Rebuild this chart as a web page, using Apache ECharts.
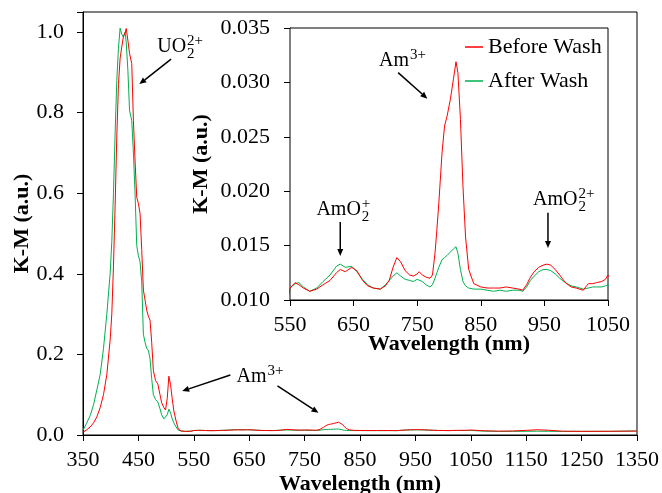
<!DOCTYPE html>
<html><head><meta charset="utf-8">
<script src="https://cdn.jsdelivr.net/npm/echarts@6/dist/echarts.min.js"></script>
<style>html,body{margin:0;padding:0;background:#fff}#c{width:662px;height:493px}</style>
</head><body><div id="c"></div>
<script>
const wavelength = [350,356,363,369,375,381,387,393,399,402,405,408,411,414,417,420,423,426,428,431,434,438,441,444,447,450,453,456,459,462,465,468,471,474,477,481,485,489,492,496,499,502,505,508,511,514,518,522,527,535,545,550,558,564,571,581,592,602,613,623,629,637,647,655,664,672,681,692,700,706,712,718,724,731,738,744,750,753,758,764,770,774,778,781,784,789,793,797,802,807,811,814,818,822,826,831,839,850,860,870,880,890,900,910,916,922,928,934,941,948,954,960,967,974,983,992,1000,1011,1019,1026,1032,1040,1046,1050,1075,1100,1125,1150,1170,1190,1215,1250,1300,1350];
const beforeWash = [0.007,0.012,0.020,0.030,0.045,0.068,0.100,0.150,0.236,0.300,0.420,0.570,0.740,0.870,0.935,0.963,0.990,0.998,1.009,0.980,0.947,0.922,0.780,0.680,0.590,0.575,0.550,0.460,0.360,0.335,0.310,0.295,0.285,0.230,0.160,0.135,0.127,0.100,0.080,0.068,0.062,0.090,0.146,0.125,0.090,0.060,0.035,0.015,0.010,0.009,0.0095,0.0111,0.0116,0.0114,0.0111,0.0108,0.0110,0.0114,0.0118,0.0125,0.0128,0.0126,0.0130,0.0127,0.0118,0.0113,0.0111,0.0110,0.0113,0.0118,0.0130,0.0139,0.0135,0.0127,0.0123,0.0122,0.0124,0.0126,0.0123,0.0121,0.0120,0.0123,0.0143,0.0165,0.0189,0.0235,0.0260,0.0269,0.0284,0.0303,0.0319,0.0309,0.0266,0.0204,0.0158,0.0128,0.0115,0.0112,0.0111,0.0111,0.0111,0.0112,0.0111,0.0110,0.0109,0.0114,0.0121,0.0126,0.0130,0.0132,0.0133,0.0132,0.0128,0.0123,0.0116,0.0112,0.0111,0.0109,0.0115,0.0115,0.0116,0.0117,0.0119,0.0123,0.0105,0.0095,0.0100,0.0115,0.0130,0.0118,0.0095,0.0090,0.0092,0.0098];
const afterWash = [0.012,0.028,0.048,0.075,0.112,0.150,0.215,0.300,0.400,0.480,0.600,0.750,0.880,0.960,1.010,0.995,0.988,1.000,0.975,0.906,0.806,0.780,0.700,0.600,0.470,0.445,0.430,0.380,0.250,0.230,0.215,0.210,0.190,0.140,0.100,0.088,0.082,0.065,0.050,0.040,0.038,0.050,0.064,0.055,0.040,0.030,0.020,0.012,0.010,0.009,0.0095,0.0111,0.0115,0.0116,0.0112,0.0108,0.0111,0.0117,0.0123,0.0131,0.0133,0.0130,0.0131,0.0126,0.0119,0.0114,0.0111,0.0110,0.0114,0.0118,0.0122,0.0125,0.0122,0.0119,0.0118,0.0117,0.0119,0.0120,0.0117,0.0114,0.0112,0.0114,0.0120,0.0125,0.0130,0.0137,0.0139,0.0141,0.0144,0.0147,0.0149,0.0143,0.0128,0.0117,0.0113,0.0111,0.0110,0.0110,0.0109,0.0108,0.0109,0.0108,0.0109,0.0109,0.0108,0.0112,0.0118,0.0122,0.0126,0.0128,0.0128,0.0127,0.0124,0.0120,0.0116,0.0113,0.0112,0.0110,0.0111,0.0112,0.0112,0.0112,0.0113,0.0114,0.0095,0.0090,0.0090,0.0092,0.0095,0.0092,0.0090,0.0090,0.0091,0.0100];

const seriesNames = ['Before Wash', 'After Wash'];
const seriesColors = ['#FF0000', '#00B050'];

const mainXTicks = [350,450,550,650,750,850,950,1050,1150,1250,1350];
const mainYTicks = [0.0,0.2,0.4,0.6,0.8,1.0];
const mainYMax = 1.05;
const insetXTicks = [550,650,750,850,950,1050];
const insetYTicks = [0.010,0.015,0.020,0.025,0.030,0.035];

const axisTitleX = 'Wavelength (nm)';
const axisTitleY = 'K-M (a.u.)';

// annotations anchored in data coordinates of the grid they belong to
const annotations = [
  {grid:0, text:'UO', sup:'2+', sub:'2', at:[484, 0.963], arrows:[[[509,0.933],[451.6,0.871]]]},
  {grid:0, text:'Am', sup:'3+', sub:null, at:[627, 0.144], arrows:[[[616,0.149],[529,0.109]], [[701,0.122],[775,0.055]]]},
  {grid:1, text:'Am', sup:'3+', sub:null, at:[690, 0.0320], arrows:[[[720,0.0309],[766,0.0285]]]},
  {grid:1, text:'AmO', sup:'+', sub:'2', at:[591.5, 0.01829], arrows:[[[629,0.01718],[629,0.01405]]]},
  {grid:1, text:'AmO', sup:'2+', sub:'2', at:[932, 0.01921], arrows:[[[955.6,0.01801],[955.6,0.01479]]]}
];

const FONT = '"Liberation Serif", "Times New Roman", serif';
const pairs = arr => wavelength.map((w, i) => [w, arr[i]]);
const near = (v, list) => list.some(t => Math.abs(t - v) < 1e-6);

const chart = echarts.init(document.getElementById('c'), null, {renderer: 'canvas'});

const axisCommon = {
  axisLine: {show: true, lineStyle: {color: '#000', width: 1}},
  axisTick: {show: true, length: 6, lineStyle: {color: '#000', width: 1}},
  splitLine: {show: false},
  nameMoveOverlap: false,
  nameTextStyle: {fontFamily: FONT, fontSize: 22, fontWeight: 'bold', color: '#000'}
};
const labelStyle = {fontFamily: FONT, fontSize: 22, color: '#000'};

const series = [];
[0, 1].forEach(g => {
  [beforeWash, afterWash].forEach((arr, k) => {
    series.push({
      name: seriesNames[k], type: 'line', xAxisIndex: g, yAxisIndex: g,
      data: pairs(arr), showSymbol: false, symbol: 'none', clip: true,
      lineStyle: {color: seriesColors[k], width: 1}, itemStyle: {color: seriesColors[k]},
      z: k === 0 ? 3 : 2
    });
  });
});

chart.setOption({
  animation: false,
  backgroundColor: '#fff',
  grid: [
    {left: 83, top: 12, right: 25, bottom: 58, show: true, borderColor: '#000', borderWidth: 1, backgroundColor: 'transparent', containLabel: false, outerBoundsMode: 'none'},
    {left: 290, top: 28, right: 54, bottom: 193, show: true, borderColor: '#000', borderWidth: 1, backgroundColor: '#fff', z: 1, containLabel: false, outerBoundsMode: 'none'}
  ],
  legend: {
    show: true, orient: 'vertical', left: 460, top: 31, itemGap: 12,
    itemWidth: 18, itemHeight: 1.5, icon: 'rect',
    data: seriesNames,
    textStyle: {fontFamily: FONT, fontSize: 22, color: '#000'}
  },
  xAxis: [
    Object.assign({}, axisCommon, {
      type: 'value', gridIndex: 0, min: mainXTicks[0], max: mainXTicks[mainXTicks.length-1], interval: 100,
      name: axisTitleX, nameLocation: 'middle', nameGap: 38,
      axisLabel: Object.assign({margin: 14, formatter: v => near(v, mainXTicks) ? String(v) : ''}, labelStyle)
    }),
    Object.assign({}, axisCommon, {
      type: 'value', gridIndex: 1, min: insetXTicks[0], max: insetXTicks[insetXTicks.length-1], interval: 100,
      name: axisTitleX, nameLocation: 'middle', nameGap: 33,
      axisLabel: Object.assign({margin: 14, formatter: v => near(v, insetXTicks) ? String(v) : ''}, labelStyle)
    })
  ],
  yAxis: [
    Object.assign({}, axisCommon, {
      type: 'value', gridIndex: 0, min: mainYTicks[0], max: mainYMax, interval: 0.2,
      name: axisTitleY, nameLocation: 'middle', nameGap: 50,
      axisLabel: Object.assign({margin: 19, formatter: v => near(v, mainYTicks) ? v.toFixed(1) : ''}, labelStyle)
    }),
    Object.assign({}, axisCommon, {
      type: 'value', gridIndex: 1, min: insetYTicks[0], max: insetYTicks[insetYTicks.length-1], interval: 0.005,
      name: axisTitleY, nameLocation: 'middle', nameGap: 78,
      axisLabel: Object.assign({margin: 20, formatter: v => near(v, insetYTicks) ? v.toFixed(3) : ''}, labelStyle)
    })
  ],
  series: series
});

// build annotation graphics
const ctx = document.createElement('canvas').getContext('2d');
function textWidth(t, size) { ctx.font = size + 'px ' + FONT; return ctx.measureText(t).width; }
const MAIN_SIZE = 20, SMALL_SIZE = 15;
const graphics = [];
annotations.forEach(a => {
  const p = chart.convertToPixel({gridIndex: a.grid}, a.at);
  graphics.push({type: 'text', x: p[0], y: p[1], z: 100,
    style: {text: a.text, fontFamily: FONT, fontSize: MAIN_SIZE, fill: '#000', align: 'left', verticalAlign: 'middle'}});
  const w = textWidth(a.text, MAIN_SIZE);
  if (a.sup) graphics.push({type: 'text', x: p[0] + w + 1, y: p[1] - 6, z: 100,
    style: {text: a.sup, fontFamily: FONT, fontSize: SMALL_SIZE, fill: '#000', align: 'left', verticalAlign: 'middle'}});
  if (a.sub) graphics.push({type: 'text', x: p[0] + w + 1, y: p[1] + 7, z: 100,
    style: {text: a.sub, fontFamily: FONT, fontSize: SMALL_SIZE, fill: '#000', align: 'left', verticalAlign: 'middle'}});
  a.arrows.forEach(ar => {
    const s = chart.convertToPixel({gridIndex: a.grid}, ar[0]);
    const e = chart.convertToPixel({gridIndex: a.grid}, ar[1]);
    const dx = e[0] - s[0], dy = e[1] - s[1], L = Math.hypot(dx, dy);
    const ux = dx / L, uy = dy / L, nx = -uy, ny = ux;
    const HL = 7, HW = 3;
    const bx = e[0] - ux * HL, by = e[1] - uy * HL;
    graphics.push({type: 'line', z: 100, shape: {x1: s[0], y1: s[1], x2: bx, y2: by},
      style: {stroke: '#000', lineWidth: 1.5}});
    graphics.push({type: 'polygon', z: 100, shape: {points: [[e[0], e[1]], [bx + nx * HW, by + ny * HW], [bx - nx * HW, by - ny * HW]]},
      style: {fill: '#000'}});
  });
});
chart.setOption({graphic: graphics});
</script>
</body></html>
